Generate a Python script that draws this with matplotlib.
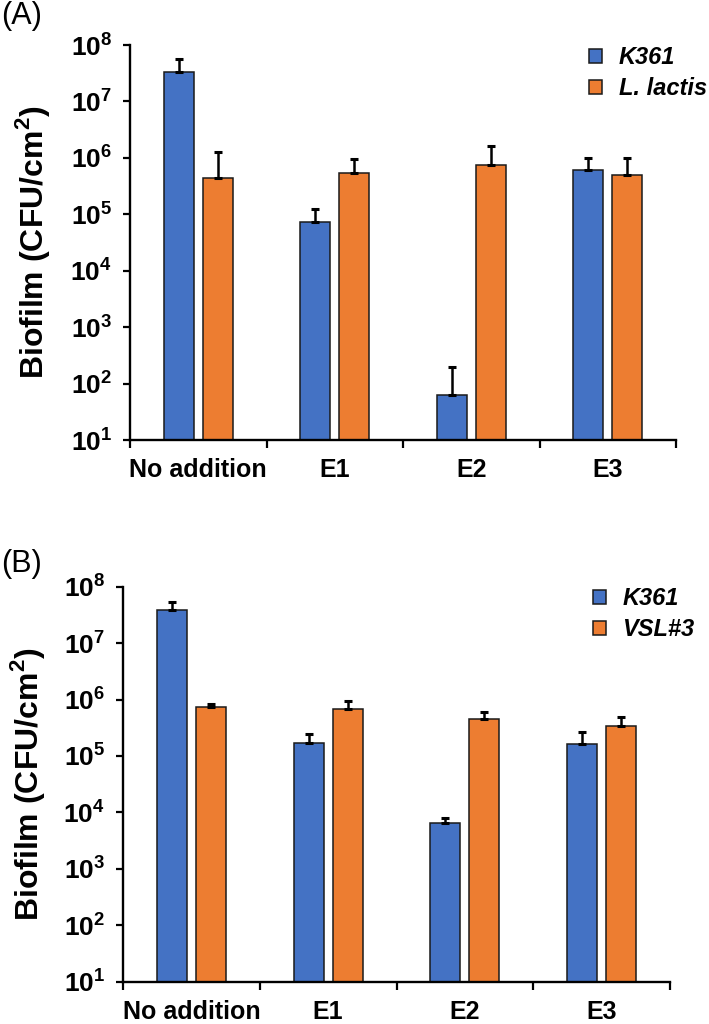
import matplotlib

matplotlib.use("Agg")
import matplotlib.pyplot as plt
import numpy as np
from matplotlib.patches import Patch
from matplotlib.ticker import FixedLocator, FixedFormatter

plt.rcParams["font.family"] = ["Liberation Sans", "DejaVu Sans"]
plt.rcParams["mathtext.fontset"] = "custom"
plt.rcParams["mathtext.rm"] = "Liberation Sans"
plt.rcParams["mathtext.bf"] = "Liberation Sans:bold"

# data (CFU/cm2), upper error bars only
groups = ["No addition", "E1", "E2", "E3"]

k361_a = [3.3e7, 7.4e4, 64, 6.0e5]
k361_a_sd = [2.3e7, 4.9e4, 134, 4.0e5]
lactis_a = [4.4e5, 5.3e5, 7.4e5, 4.9e5]
lactis_a_sd = [8.2e5, 4.3e5, 9.1e5, 5.1e5]

k361_b = [3.9e7, 1.7e5, 6.5e3, 1.6e5]
k361_b_sd = [1.5e7, 0.7e5, 1.4e3, 1.0e5]
vsl_b = [7.3e5, 6.8e5, 4.5e5, 3.4e5]
vsl_b_sd = [1.0e5, 2.5e5, 1.4e5, 1.4e5]

decades = [1e1, 1e2, 1e3, 1e4, 1e5, 1e6, 1e7, 1e8]
decade_labels = [r"$\mathbf{10^{%d}}$" % e for e in range(1, 9)]

BLUE = "#4472C4"
ORANGE = "#ED7D31"


def draw_panel(ax, k361, k361_sd, other, other_sd, other_label, legend_anchor, label_x):
    x = np.arange(len(groups)) + 0.5
    off = 0.143
    width = 0.22
    ax.bar(x - off, k361, width, color=BLUE, edgecolor="#1a1a1a", linewidth=1.1, zorder=2)
    ax.bar(x + off, other, width, color=ORANGE, edgecolor="#1a1a1a", linewidth=1.1, zorder=2)
    zeros = np.zeros(len(groups))
    ax.errorbar(x - off, k361, yerr=[zeros, k361_sd], fmt="none", ecolor="black",
                elinewidth=1.8, capsize=3, capthick=2.2, zorder=3)
    ax.errorbar(x + off, other, yerr=[zeros, other_sd], fmt="none", ecolor="black",
                elinewidth=1.8, capsize=3, capthick=2.2, zorder=3)

    ax.set_yscale("log")
    ax.set_ylim(1e1, 1e8)
    ax.set_xlim(0, len(groups))
    ax.yaxis.set_major_locator(FixedLocator(decades))
    ax.yaxis.set_major_formatter(FixedFormatter(decade_labels))
    ax.yaxis.set_minor_locator(FixedLocator([]))
    ax.set_xticks(x)
    ax.set_xticklabels(groups, fontsize=18, fontweight="bold")
    ax.set_xticks(np.arange(len(groups) + 1), minor=True)
    ax.tick_params(axis="x", which="major", length=0, pad=13)
    ax.tick_params(axis="x", which="minor", length=6, width=1.6, direction="out")
    ax.tick_params(axis="y", which="major", length=5, width=1.6, direction="out",
                   labelsize=19, pad=8)

    for side in ("top", "right"):
        ax.spines[side].set_visible(False)
    for side in ("left", "bottom"):
        ax.spines[side].set_linewidth(1.7)

    ax.set_ylabel("Biofilm (CFU/cm$^{\\mathbf{2}}$)", fontsize=23, fontweight="bold")
    ax.yaxis.set_label_coords(label_x, 0.5)

    handles = [Patch(facecolor=BLUE, edgecolor="#1a1a1a", linewidth=1.1),
               Patch(facecolor=ORANGE, edgecolor="#1a1a1a", linewidth=1.1)]
    ax.legend(handles, ["K361", other_label], loc="upper left",
              bbox_to_anchor=legend_anchor, bbox_transform=ax.figure.transFigure,
              frameon=False, borderpad=0, borderaxespad=0,
              handlelength=0.55, handleheight=0.55, handletextpad=0.7,
              labelspacing=0.35,
              prop={"size": 17, "weight": "bold", "style": "italic"})


fig = plt.figure(figsize=(7.09, 10.24), dpi=100)
ax_a = fig.add_axes([130 / 709, 1 - 440 / 1024, 546 / 709, 395 / 1024])
ax_b = fig.add_axes([123 / 709, 1 - 981.5 / 1024, 547 / 709, 394.8 / 1024])

draw_panel(ax_a, k361_a, k361_a_sd, lactis_a, lactis_a_sd, "L. lactis",
           (589 / 709, 1 - 46 / 1024), -0.143)
draw_panel(ax_b, k361_b, k361_b_sd, vsl_b, vsl_b_sd, "VSL#3",
           (593 / 709, 1 - 587 / 1024), -0.139)

fig.text(0.002, 1 - 1 / 1024, "(A)", fontsize=22, va="top", ha="left")
fig.text(0.002, 1 - 549 / 1024, "(B)", fontsize=22, va="top", ha="left")

fig.savefig("out.png", dpi=100)
